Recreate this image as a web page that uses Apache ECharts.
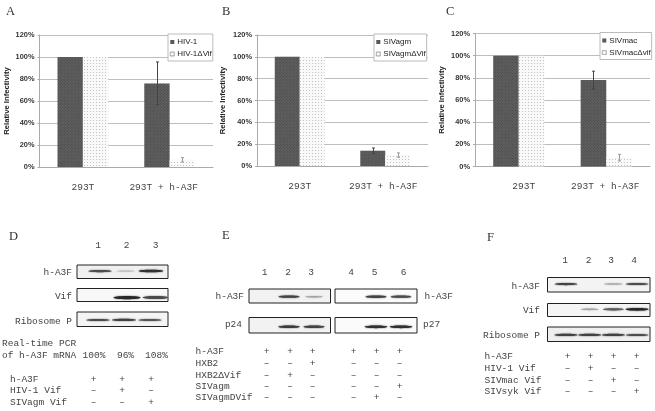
<!DOCTYPE html>
<html><head><meta charset="utf-8">
<style>html,body{margin:0;padding:0;background:#fff}#c{width:655px;height:411px;filter:blur(0.35px)}</style>
<script src="https://cdn.jsdelivr.net/npm/echarts@6/dist/echarts.min.js"></script>
</head><body><div id="c"></div>
<script>
// ---------- DATA ----------
const categories = ['293T', '293T + h-A3F'];
const yTicks = [0, 20, 40, 60, 80, 100, 120];

const namesA = ['HIV-1', 'HIV-1\u0394Vif'];
const wildA = [100, 76];
const deltaA = [100, 6.5];
const wildErrA = [0, 19.5];
const deltaErrA = [0, 2];

const namesB = ['SIVagm', 'SIVagm\u0394Vif'];
const wildB = [100, 14];
const deltaB = [100, 10];
const wildErrB = [0, 2.5];
const deltaErrB = [0, 2];

const namesC = ['SIVmac', 'SIVmac\u0394vif'];
const wildC = [100, 78];
const deltaC = [100, 8];
const wildErrC = [0, 8];
const deltaErrC = [0, 3];

// band intensities (0 = absent, 1 = darkest)
const blotD_A3F = [0.8, 0.15, 0.95];
const blotD_Vif = [0, 1, 0.8];
const blotD_Ribo = [0.8, 0.85, 0.75];
const blotE_A3F_L = [0, 0.85, 0.3];
const blotE_p24_L = [0, 0.9, 0.85];
const blotE_A3F_R = [0, 0.85, 0.8];
const blotE_p27_R = [0, 0.95, 0.95];
const blotF_A3F = [0.85, 0, 0.25, 0.8];
const blotF_Vif = [0, 0.3, 0.7, 1];
const blotF_Ribo = [0.85, 0.85, 0.85, 0.8];

const pcrValues = ['100%', '96%', '108%'];

const tableD = [['h-A3F', '+', '+', '+'], ['HIV-1 Vif', '\u2013', '+', '\u2013'], ['SIVagm Vif', '\u2013', '\u2013', '+']];
const tableE = [
  ['h-A3F', '+', '+', '+', '+', '+', '+'],
  ['HXB2', '\u2013', '\u2013', '+', '\u2013', '\u2013', '\u2013'],
  ['HXB2\u0394Vif', '\u2013', '+', '\u2013', '\u2013', '\u2013', '\u2013'],
  ['SIVagm', '\u2013', '\u2013', '\u2013', '\u2013', '\u2013', '+'],
  ['SIVagmDVif', '\u2013', '\u2013', '\u2013', '\u2013', '+', '\u2013']];
const tableF = [
  ['h-A3F', '+', '+', '+', '+'],
  ['HIV-1 Vif', '\u2013', '+', '\u2013', '\u2013'],
  ['SIVmac Vif', '\u2013', '\u2013', '+', '\u2013'],
  ['SIVsyk Vif', '\u2013', '\u2013', '\u2013', '+']];

// ---------- BUILD ----------
const MONO = '"Liberation Mono","DejaVu Sans Mono",monospace';
const SANS = '"Liberation Sans",Arial,sans-serif';
const SERIF = '"Liberation Serif",serif';
const TXT = '#444';

const grids = [], xAxes = [], yAxes = [], series = [], legends = [], graphics = [];

function text(str, x, y, o) {
  graphics.push({type: 'text', x, y, silent: true, style: Object.assign({
    text: str, fill: TXT, fontFamily: MONO, fontSize: 9.5, textAlign: 'left', textVerticalAlign: 'middle'
  }, o || {})});
}

function barPanel(p) {
  const g = grids.length;
  grids.push({left: p.l, top: p.t, width: p.r - p.l, height: p.b - p.t, containLabel: false});
  xAxes.push({gridIndex: g, type: 'category',
    data: categories.map((c, i) => ({value: c, textStyle: {padding: p.labelPad[i]}})),
    axisTick: {show: false}, axisLine: {lineStyle: {color: '#aaa'}},
    axisLabel: {fontFamily: MONO, fontSize: 9.5, color: TXT, margin: 15, interval: 0}});
  yAxes.push({gridIndex: g, type: 'value', min: yTicks[0], max: yTicks[yTicks.length - 1], interval: yTicks[1] - yTicks[0],
    axisLine: {show: true, lineStyle: {color: '#aaa'}}, axisTick: {show: true, length: 2, lineStyle: {color: '#aaa'}},
    axisLabel: {formatter: '{value}%', fontFamily: SANS, fontWeight: 'bold', fontSize: 7.4, color: '#333', margin: 5},
    splitLine: {lineStyle: {color: '#bdbdbd'}},
    name: 'Relative Infectivity', nameLocation: 'middle', nameRotate: 90, nameGap: p.nameGap,
    nameTextStyle: {fontFamily: SANS, fontWeight: 'bold', fontSize: 7.7, color: '#222'}});
  const common = {type: 'bar', xAxisIndex: g, yAxisIndex: g, barWidth: '29.2%', barGap: 0, animation: false, z: 3};
  series.push(Object.assign({}, common, {name: p.names[0], data: p.wild,
    itemStyle: {color: '#5f5f5f', decal: {symbol: 'rect', symbolSize: 1, color: 'rgba(50,50,50,0.5)', dashArrayX: [1, 1], dashArrayY: [1, 1], rotation: -0.785}}}));
  series.push(Object.assign({}, common, {name: p.names[1], data: p.delta,
    itemStyle: {color: '#f9f9f9', decal: {symbol: 'rect', symbolSize: 1, color: 'rgba(120,120,120,0.42)', dashArrayX: [1, 2], dashArrayY: [1, 2], rotation: 0}}}));
  const errSeries = (vals, errs, dir, col) => ({
    type: 'custom', xAxisIndex: g, yAxisIndex: g, animation: false, z: 5, silent: true, legendHoverLink: false,
    data: vals.map((v, i) => [i, v, errs[i]]),
    renderItem(params, api) {
      if (!api.value(2)) return null;
      const bw = api.size([1, 0])[0] * 0.292;
      const c = api.coord([api.value(0), api.value(1)]);
      const x = Math.round(c[0] + dir * bw / 2) + 0.5;
      const hi = api.coord([api.value(0), api.value(1) + api.value(2)])[1];
      const lo = api.coord([api.value(0), api.value(1) - api.value(2)])[1];
      const st = {stroke: col, lineWidth: 1, fill: null};
      return {type: 'group', children: [
        {type: 'line', shape: {x1: x, y1: hi, x2: x, y2: lo}, style: st},
        {type: 'line', shape: {x1: x - 1.5, y1: hi, x2: x + 1.5, y2: hi}, style: st},
        {type: 'line', shape: {x1: x - 1.5, y1: lo, x2: x + 1.5, y2: lo}, style: st}]};
    }});
  series.push(errSeries(p.wild, p.wildErr, -1, '#444'));
  series.push(errSeries(p.delta, p.deltaErr, 1, '#999'));
  legends.push({show: true, gridIndex: g,
    data: [{name: p.names[0], icon: 'rect'}, {name: p.names[1], icon: 'rect', itemStyle: {borderColor: '#aaa', borderWidth: 0.6}}],
    orient: 'vertical', left: p.lgL, top: p.lgT, itemWidth: 4, itemHeight: 4, itemGap: 4, padding: [4, 1, 3, 2],
    backgroundColor: '#fff', borderColor: '#bbb', borderWidth: 1, selectedMode: false,
    textStyle: {fontFamily: SANS, fontSize: 8, color: '#222', padding: [0, 0, 0, -2]}});
}

barPanel({l: 39.5, r: 213, t: 35, b: 167, names: namesA, wild: wildA, delta: deltaA, wildErr: wildErrA, deltaErr: deltaErrA, lgL: 168, lgT: 34, nameGap: 29, labelPad: [[0, 0, 0, 0], [0, 12, 0, 0]]});
barPanel({l: 257, r: 428, t: 35, b: 166, names: namesB, wild: wildB, delta: deltaB, wildErr: wildErrB, deltaErr: deltaErrB, lgL: 374, lgT: 34, nameGap: 30, labelPad: [[0, 0, 0, 0], [0, 4, 0, 0]]});
barPanel({l: 475, r: 650, t: 33.5, b: 166.5, names: namesC, wild: wildC, delta: deltaC, wildErr: wildErrC, deltaErr: deltaErrC, lgL: 600, lgT: 32.5, nameGap: 29, labelPad: [[0, 0, 0, 10], [0, 2, 0, 0]]});

function blot(b) {
  const g = grids.length;
  grids.push({left: b.x0, top: b.y0, width: b.x1 - b.x0, height: b.y1 - b.y0, show: true,
    backgroundColor: b.bg || '#f6f6f6', borderColor: '#222', borderWidth: 1});
  xAxes.push({gridIndex: g, type: 'value', show: false, min: (b.x0 - b.lane0) / b.step, max: (b.x1 - b.lane0) / b.step});
  yAxes.push({gridIndex: g, type: 'value', show: false, min: 0, max: 1});
  series.push({type: 'custom', xAxisIndex: g, yAxisIndex: g, animation: false, silent: true, z: 4, clip: true,
    data: b.vals.map((v, i) => [i + (b.shift ? b.shift[i] : 0), b.yf, v]),
    renderItem(params, api) {
      const v = api.value(2);
      if (!v) return null;
      const c = api.coord([api.value(0), api.value(1)]);
      const rx = b.bw / 2 * (0.7 + 0.3 * v), ry = (b.th || 1.2) * (0.45 + v * 0.55);
      const lev = Math.round(215 - 175 * v);
      return {type: 'ellipse', shape: {cx: c[0], cy: c[1], rx, ry},
        style: {fill: `rgb(${lev},${lev},${lev})`, shadowBlur: 1.5, shadowColor: `rgb(${lev},${lev},${lev})`}};
    }});
}

// D
blot({x0: 77, x1: 168, y0: 265, y1: 278.5, lane0: 100, step: 25.5, vals: blotD_A3F, yf: 0.55, bw: 25, th: 1.3, bg: '#f0f0f0'});
blot({x0: 77, x1: 168, y0: 288.5, y1: 301.5, lane0: 100, step: 25.5, vals: blotD_Vif, yf: 0.3, bw: 27, th: 1.7, shift: [0, 0.06, 0.17], bg: '#f8f8f8'});
blot({x0: 77, x1: 168, y0: 312, y1: 326.5, lane0: 98, step: 26, vals: blotD_Ribo, yf: 0.45, bw: 25, th: 1.2, bg: '#f4f4f4'});
// E
blot({x0: 249, x1: 330.5, y0: 289, y1: 303, lane0: 264, step: 25, vals: blotE_A3F_L, yf: 0.45, bw: 22, th: 1.2, bg: '#f2f2f2'});
blot({x0: 249, x1: 330.5, y0: 317.5, y1: 333, lane0: 264, step: 25, vals: blotE_p24_L, yf: 0.4, bw: 22, th: 1.4, bg: '#f2f2f2'});
blot({x0: 335, x1: 417, y0: 289, y1: 303, lane0: 351, step: 25, vals: blotE_A3F_R, yf: 0.45, bw: 22, th: 1.3, bg: '#fbfbfb'});
blot({x0: 335, x1: 417, y0: 317.5, y1: 333, lane0: 351, step: 25, vals: blotE_p27_R, yf: 0.4, bw: 23, th: 1.4, bg: '#fbfbfb'});
// F
blot({x0: 547.5, x1: 650, y0: 277.5, y1: 292, lane0: 566, step: 23.7, vals: blotF_A3F, yf: 0.55, bw: 24, th: 1.2, bg: '#f3f3f3'});
blot({x0: 547.5, x1: 650, y0: 303.5, y1: 316.5, lane0: 566, step: 23.7, vals: blotF_Vif, yf: 0.55, bw: 23, th: 1.4, bg: '#f5f5f5'});
blot({x0: 547.5, x1: 650, y0: 327, y1: 341.5, lane0: 566, step: 23.7, vals: blotF_Ribo, yf: 0.45, bw: 24, th: 1.2, bg: '#efefef'});

// panel letters
[['A', 6, 12], ['B', 222, 12], ['C', 446, 12], ['D', 9, 237], ['E', 222, 236], ['F', 487, 238]].forEach(([t, x, y]) =>
  text(t, x, y, {fontFamily: SERIF, fontSize: 12.5, fill: '#333'}));

// lane numbers
const laneNum = (xs, y) => xs.forEach((x, i) => text(String(i + 1), x, y, {textAlign: 'center'}));
laneNum([98, 126.5, 155.5], 245);
laneNum([264.5, 288, 311, 351, 374.5, 403.5], 272);
laneNum([565, 588.5, 611, 634], 260);

// blot labels
const rt = {textAlign: 'right'};
text('h-A3F', 72, 272.5, rt); text('Vif', 72, 296, rt); text('Ribosome P', 72, 321.5, rt);
text('h-A3F', 244, 296, rt); text('p24', 242, 324, rt);
text('h-A3F', 424.5, 296); text('p27', 423, 324);
text('h-A3F', 540, 286, rt); text('Vif', 540, 310, rt); text('Ribosome P', 540, 335, rt);

// PCR lines
text('Real-time PCR', 2, 343.5); text('of h-A3F mRNA', 2, 355);
pcrValues.forEach((v, i) => text(v, [94, 125.5, 156.5][i], 355, {textAlign: 'center'}));

// tables
function table(rows, x, ys, cols) {
  rows.forEach((r, i) => {
    text(r[0], x, ys[i]);
    r.slice(1).forEach((s, j) => text(s, cols[j], ys[i], {textAlign: 'center'}));
  });
}
table(tableD, 10, [379, 390.5, 402], [93.5, 122, 151]);
table(tableE, 195.5, [351.5, 363, 375, 386.5, 397.5], [266.5, 290, 312.5, 353.5, 376.5, 399.5]);
table(tableF, 484.5, [356.5, 368.5, 380, 391.5], [567.5, 590.5, 613.5, 636.5]);

const chart = echarts.init(document.getElementById('c'), null, {renderer: 'canvas', width: 655, height: 411});
chart.setOption({animation: false, backgroundColor: '#fff', tooltip: {show: false},
  grid: grids, xAxis: xAxes, yAxis: yAxes, series, legend: legends, graphic: graphics});
</script></body></html>
